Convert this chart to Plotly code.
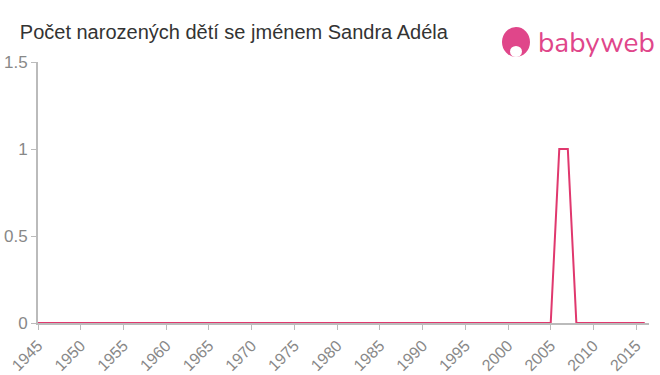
import plotly.graph_objects as go

years = list(range(1945, 2017))
counts = [1 if y in (2006, 2007) else 0 for y in years]
x_ticks = list(range(1945, 2016, 5))
y_ticks = [0, 0.5, 1, 1.5]
y_tick_text = ["0", "0.5", "1", "1.5"]

fig = go.Figure()
fig.add_trace(go.Scatter(x=years, y=counts, mode="lines",
                         line=dict(color="#e0386e", width=2), hoverinfo="x+y"))

fig.update_layout(
    width=660, height=375,
    margin=dict(l=38, r=11, t=62, b=52, autoexpand=False),
    paper_bgcolor="white", plot_bgcolor="white",
    showlegend=False,
    font=dict(family="Liberation Sans, Arial, sans-serif", color="#888"),
    title=dict(text="Počet narozených dětí se jménem Sandra Adéla",
               x=0.03, xanchor="left", y=0.915, yanchor="middle",
               font=dict(size=20, color="#333")),
)
fig.update_xaxes(range=[1945, 2016.5], tickvals=x_ticks, ticktext=[str(v) for v in x_ticks],
                 tickangle=-45, ticks="outside", ticklen=5, tickcolor="#bbb",
                 showline=True, linecolor="#bbb", linewidth=2, showgrid=False, zeroline=False,
                 automargin=False,
                 tickfont=dict(size=16, color="#888"))
fig.update_yaxes(range=[0, 1.5], tickvals=y_ticks, ticktext=y_tick_text,
                 ticks="outside", ticklen=5, tickcolor="#bbb",
                 showline=True, linecolor="#bbb", linewidth=2, showgrid=False, zeroline=False,
                 automargin=False,
                 tickfont=dict(size=17, color="#888"))

# logo
fig.add_shape(type="circle", xref="paper", yref="paper",
              x0=(502-38)/611, x1=(530-38)/611, y0=(313-47)/261, y1=(313-17)/261,
              fillcolor="#e0468a", line=dict(width=0))
fig.add_shape(type="circle", xref="paper", yref="paper",
              x0=(510-38)/611, x1=(522-38)/611, y0=(313-47)/261, y1=(313-36)/261,
              fillcolor="white", line=dict(width=0))
fig.add_annotation(text="babyweb", xref="paper", yref="paper",
                   x=(536-38)/611, y=(313-33)/261, xanchor="left", yanchor="middle",
                   showarrow=False, font=dict(size=28, color="#e0468a",
                                              family="Nunito, Lato, sans-serif"))

fig.write_html("out.html")
